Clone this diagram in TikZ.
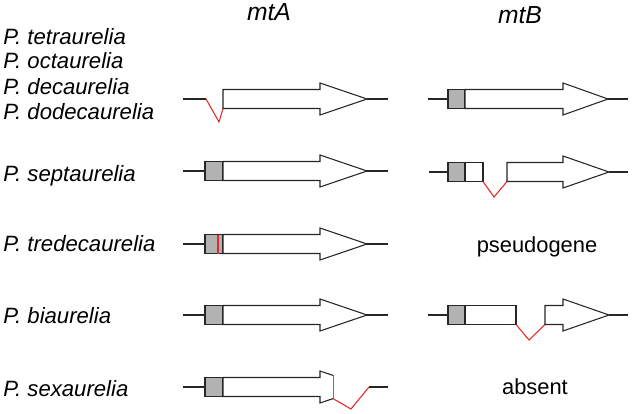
\documentclass[tikz,border=0pt]{standalone}
\usepackage{fontspec}
\setmainfont{Liberation Sans}
\definecolor{cutred}{RGB}{232,38,43}

\begin{document}
\begin{tikzpicture}[
x=0.75pt,y=-0.75pt,
font=\fontsize{16.4}{18.75}\selectfont,
species/.style={font=\fontsize{16.6}{18.75}\selectfont\itshape,anchor=base west,inner sep=0pt},
header/.style={font=\fontsize{18.5}{21}\selectfont\itshape,anchor=base,inner sep=0pt},
note/.style={anchor=base,inner sep=0pt},
gene/.style={draw=black!85,line width=0.8pt,fill=white,line join=miter},
exon/.style={draw=black!85,line width=0.8pt,fill=black!30},
flank/.style={draw=black!85,line width=0.8pt},
intron/.style={draw=cutred,line width=0.8pt}
]
\useasboundingbox (0,0) rectangle (633,414);

% Arrow body: left end, start of head, tip, row
\def\genearrow#1#2#3#4{%
  \draw[gene] ({#1},{#4-9.5}) -- ({#2},{#4-9.5}) -- ({#2},{#4-16}) -- ({#3},{#4})
    -- ({#2},{#4+16}) -- ({#2},{#4+9.5}) -- ({#1},{#4+9.5}) -- cycle;}

% Column headers
\node[header] (mtA) at (269,21) {mtA};
\node[header] (mtB) at (520,23) {mtB};

% Species names
\foreach \nm/\sp/\y in {tetra/tetraurelia/44, octa/octaurelia/69, deca/decaurelia/94,
    dodeca/dodecaurelia/119, septa/septaurelia/181, tredeca/tredecaurelia/251,
    bi/biaurelia/323, sexa/sexaurelia/396}
  \node[species] (\nm) at (3,\y) {P. \sp};

% mtA, first group
\draw[flank] (183,99) -- (206,99);
\draw[intron] (206,99) -- (219,122) -- (223,108.5);
\genearrow{223}{320}{367}{99}
\draw[flank] (367,99) -- (388,99);

% mtA, complete genes
\foreach \y in {171,244,315}{
  \draw[flank] (183,\y) -- (388,\y);
  \draw[exon] (205,\y-9.5) rectangle (223,\y+9.5);
  \genearrow{223}{320}{367}{\y}
}
\draw[intron] (218,234.5) -- (218,253.5);

% mtA, P. sexaurelia
\draw[flank] (183,387) -- (205,387);
\draw[exon] (205,377.5) rectangle (223,396.5);
\draw[gene] (333,375.4) -- (320,371) -- (320,377.5) -- (223,377.5) -- (223,396.5)
  -- (320,396.5) -- (320,403) -- (333,398.6);
\draw[black!55,line width=0.4pt] (333,375.4) -- (333,398.6);
\draw[intron] (333,398.6) -- (351,409) -- (369,387);
\draw[flank] (369,387) -- (388,387);

% mtB, first group
\draw[flank] (428,99) -- (628,99);
\draw[exon] (448,89.5) rectangle (465,108.5);
\genearrow{465}{563}{608}{99}

% mtB, P. septaurelia
\draw[flank] (429,172) -- (448,172);
\draw[flank] (609,172) -- (628,172);
\draw[exon] (448,162.5) rectangle (465,181.5);
\draw[gene] (465,162.5) rectangle (483,181.5);
\draw[intron] (483,181.5) -- (494,197) -- (507,181.5);
\genearrow{507}{563}{609}{172}

% mtB, P. biaurelia
\draw[flank] (428,315) -- (448,315);
\draw[flank] (609,315) -- (628,315);
\draw[exon] (448,305.5) rectangle (465,324.5);
\draw[gene] (465,305.5) rectangle (516,324.5);
\draw[intron] (516,324.5) -- (529,340) -- (545,324.5);
\genearrow{545}{563}{609}{315}

\node[note] (pseudo) at (537,252) {pseudogene};
\node[note] (absent) at (535,394) {absent};
\end{tikzpicture}
\end{document}
